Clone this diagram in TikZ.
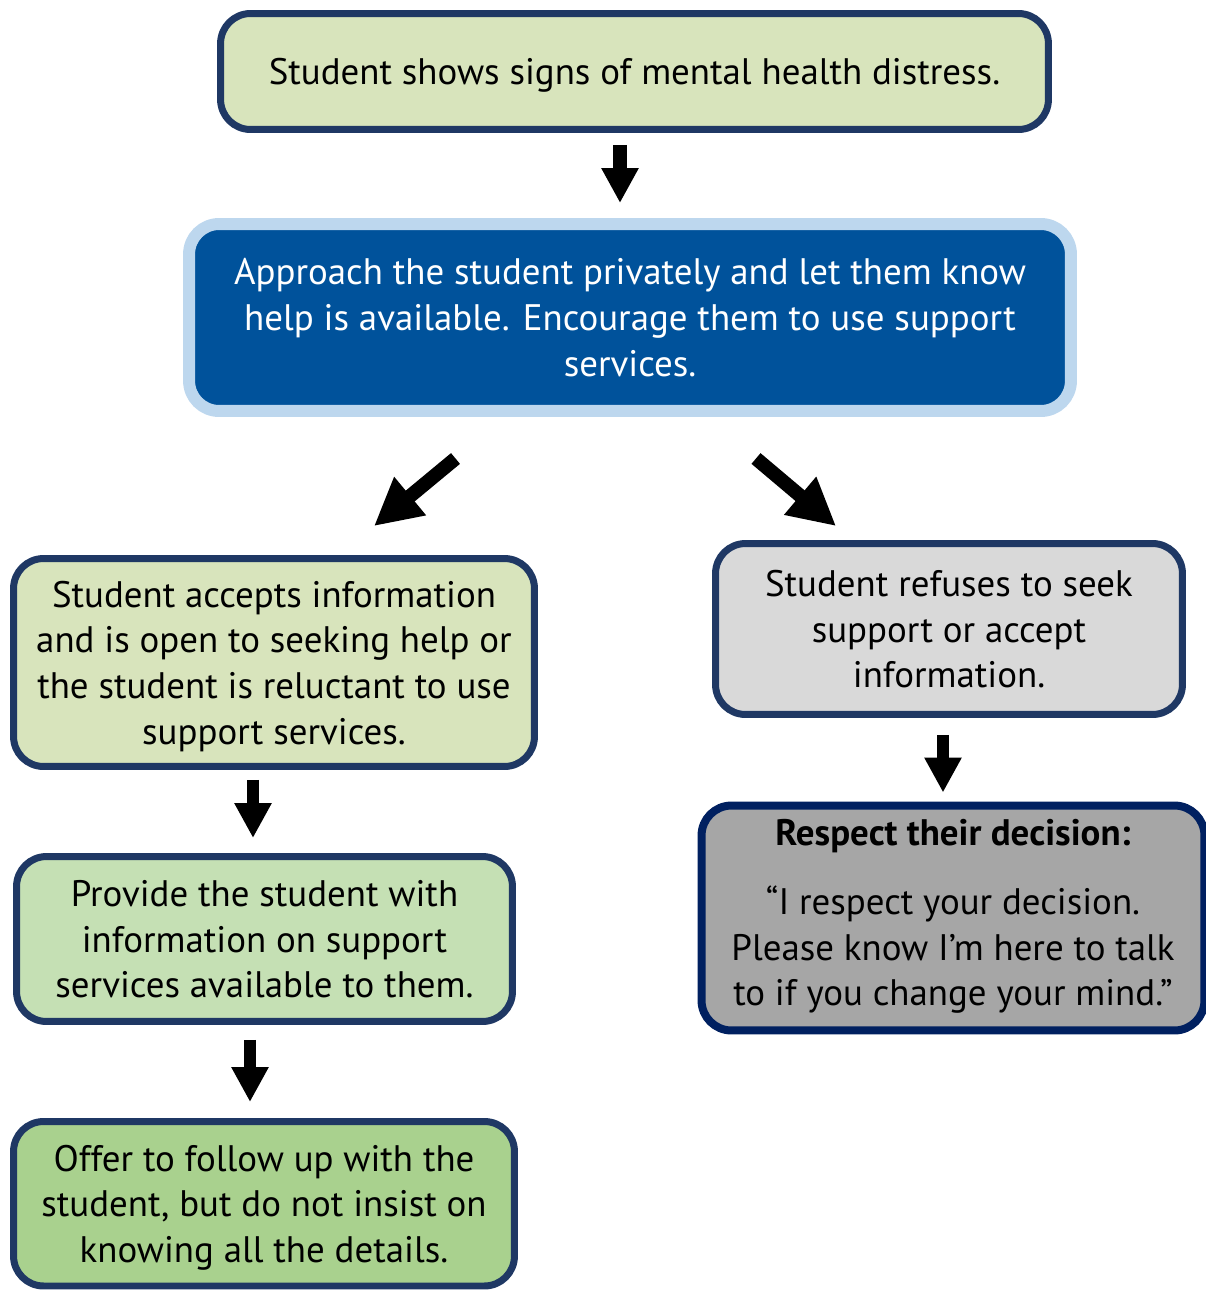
\documentclass[tikz,border=0pt]{standalone}
\usepackage{fontspec}
\setmainfont{PT Sans}
\usepackage{xcolor}
\usetikzlibrary{arrows.meta,calc}
\definecolor{navyline}{RGB}{31,56,100}
\definecolor{darknavy}{RGB}{0,32,96}
\definecolor{paleblue}{RGB}{189,215,238}
\definecolor{deepblue}{RGB}{0,82,155}
\definecolor{palegreen}{RGB}{216,228,188}
\definecolor{midgreen}{RGB}{197,224,180}
\definecolor{leafgreen}{RGB}{169,209,142}
\definecolor{lightgrey}{RGB}{217,217,217}
\definecolor{midgrey}{RGB}{166,166,166}
\tikzset{
    box/.style={ rectangle, rounded corners=0.6cm, draw=navyline, line width=1.4mm,
                 inner sep=0pt, text depth=0pt, align=center, font=\fontsize{21}{26}\selectfont },
    flow/.style={ line width=2.4mm, black, -{Triangle[length=7mm,width=7mm]} },
    slant/.style={ line width=2.8mm, black, -{Triangle[length=9.4mm,width=9.4mm]} }
}

\begin{document}
\begin{tikzpicture}[x=0.02cm,y=-0.02cm]
        \useasboundingbox (0,0) rectangle (1206,1292);

        \node[box, fill=palegreen, minimum width=16.56cm, minimum height=2.32cm] (signs) at (634.5,71.5)
            {Student shows signs of mental health distress.};
        \node[box, draw=paleblue, line width=2.4mm, fill=deepblue, text=white,
              minimum width=17.64cm, minimum height=3.74cm] (approach) at (630,317.5)
            {Approach the student privately and let them know\\help is available. Encourage them to use support\\services.};
        \node[box, fill=palegreen, minimum width=10.42cm, minimum height=4.16cm] (accepts) at (274,662.5)
            {Student accepts information\\and is open to seeking help or\\the student is reluctant to use\\support services.};
        \node[box, fill=lightgrey, minimum width=9.34cm, minimum height=3.42cm] (refuses) at (949,629)
            {Student refuses to seek\\support or accept\\information.};
        \node[box, draw=darknavy, line width=1.6mm, fill=midgrey, text depth=6pt,
              minimum width=10.06cm, minimum height=4.5cm] (respect) at (953,918)
            {\textbf{Respect their decision:}\\[13pt]“I respect your decision.\\Please know I'm here to talk\\to if you change your mind.”};
        \node[box, fill=midgreen, minimum width=9.92cm, minimum height=3.3cm] (provide) at (264.5,939)
            {Provide the student with\\information on support\\services available to them.};
        \node[box, fill=leafgreen, minimum width=10.02cm, minimum height=3.29cm] (offer) at (264,1203.75)
            {Offer to follow up with the\\student, but do not insist on\\knowing all the details.};

        \draw[flow, line width=2.8mm] ($(signs.south)+(-14.5,12)$) -- ($(approach.north)+(-10,-15)$);
        \draw[slant] ($(approach.south)+(-174.5,41.5)$) -- ($(accepts.north)+(100,-29)$);
        \draw[slant] ($(approach.south)+(126,41.5)$) -- ($(refuses.north)+(-113,-14)$);
        \draw[flow] ($(accepts.south)+(-21,10)$) -- ($(provide.north)+(-11.5,-15)$);
        \draw[flow] ($(provide.south)+(-14.5,15)$) -- ($(offer.north)+(-14,-16)$);
        \draw[flow] ($(refuses.south)+(-6,17)$) -- ($(respect.north)+(-10,-9)$);
    \end{tikzpicture}
\end{document}
